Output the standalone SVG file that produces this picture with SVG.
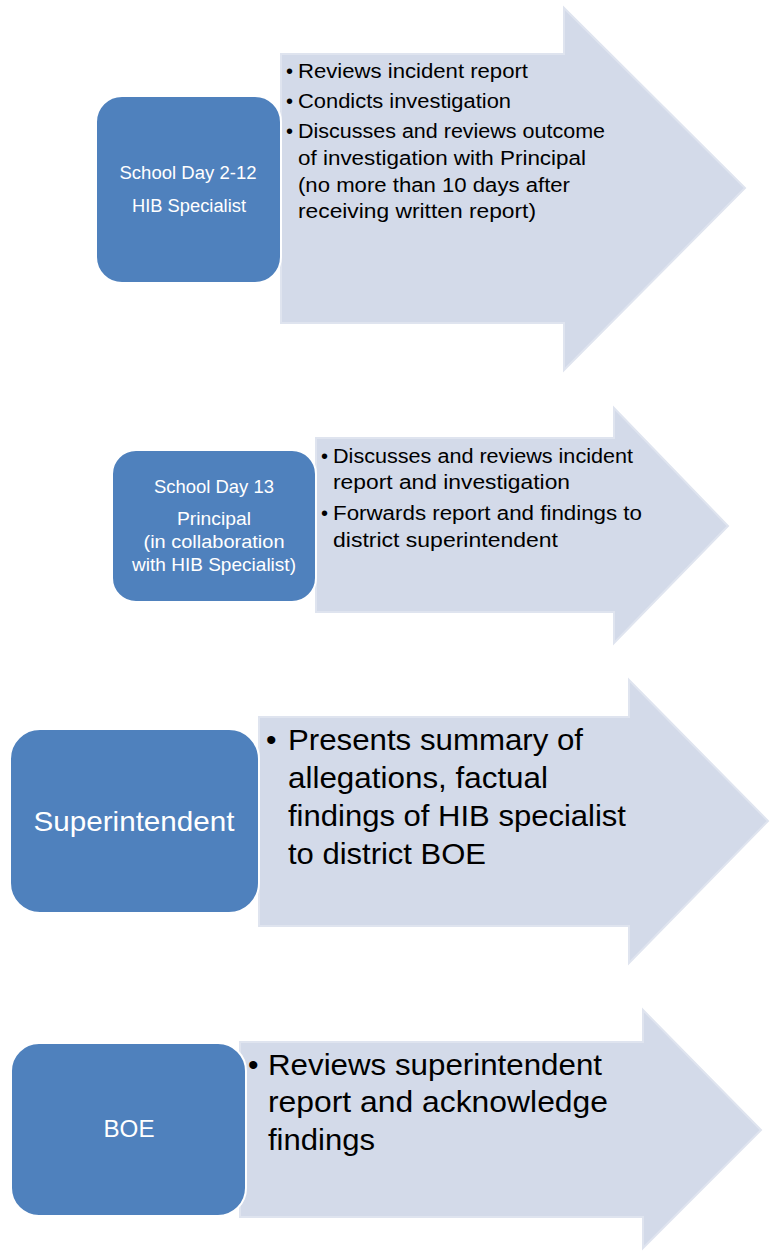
<svg xmlns="http://www.w3.org/2000/svg" width="773" height="1252" viewBox="0 0 773 1252">
  <style>
    .arrow { fill: #d3dae9; stroke: #dfe4ef; stroke-width: 2; }
    .box { fill: #4f81bd; stroke: #ffffff; stroke-width: 2; }
    .lbl { font-family: "Liberation Sans", Arial, sans-serif; fill: #ffffff; text-anchor: middle; }
    .txt { font-family: "Liberation Sans", Arial, sans-serif; fill: #000000; }
    .s { font-size: 20px; }
    .l { font-size: 30px; }
  </style>
  <rect width="773" height="1252" fill="#ffffff"/>

  <!-- Step 1: HIB Specialist -->
  <g id="step1">
    <path class="arrow" d="M281,54 H564 V8 L745,188 L564,370 V323 H281 Z"/>
    <rect class="box" x="96" y="96" width="185" height="187" rx="26" ry="26"/>
    <text class="lbl" x="188" y="179" font-size="18" textLength="137" lengthAdjust="spacingAndGlyphs">School Day 2-12</text>
    <text class="lbl" x="189" y="212" font-size="18" textLength="114" lengthAdjust="spacingAndGlyphs">HIB Specialist</text>
    <g class="txt s">
      <text x="286" y="78">•</text>
      <text x="298" y="78" textLength="230" lengthAdjust="spacingAndGlyphs">Reviews incident report</text>
      <text x="286" y="108">•</text>
      <text x="298" y="108" textLength="213" lengthAdjust="spacingAndGlyphs">Condicts investigation</text>
      <text x="286" y="138">•</text>
      <text x="298" y="138" textLength="307" lengthAdjust="spacingAndGlyphs">Discusses and reviews outcome</text>
      <text x="298" y="165" textLength="288" lengthAdjust="spacingAndGlyphs">of investigation with Principal</text>
      <text x="298" y="192" textLength="272" lengthAdjust="spacingAndGlyphs">(no more than 10 days after</text>
      <text x="298" y="218" textLength="238" lengthAdjust="spacingAndGlyphs">receiving written report)</text>
    </g>
  </g>

  <!-- Step 2: Principal -->
  <g id="step2">
    <path class="arrow" d="M316,438 H614 V408 L728,526 L614,643 V612 H316 Z"/>
    <rect class="box" x="112" y="450" width="204" height="152" rx="24" ry="24"/>
    <text class="lbl" x="214" y="493" font-size="18.5" textLength="120" lengthAdjust="spacingAndGlyphs">School Day 13</text>
    <text class="lbl" x="214" y="525" font-size="18.5" textLength="74" lengthAdjust="spacingAndGlyphs">Principal</text>
    <text class="lbl" x="214" y="548" font-size="18.5" textLength="141" lengthAdjust="spacingAndGlyphs">(in collaboration</text>
    <text class="lbl" x="214" y="571" font-size="18.5" textLength="164" lengthAdjust="spacingAndGlyphs">with HIB Specialist)</text>
    <g class="txt s">
      <text x="321" y="463">•</text>
      <text x="333" y="463" textLength="300" lengthAdjust="spacingAndGlyphs">Discusses and reviews incident</text>
      <text x="333" y="489" textLength="237" lengthAdjust="spacingAndGlyphs">report and investigation</text>
      <text x="321" y="520">•</text>
      <text x="333" y="520" textLength="309" lengthAdjust="spacingAndGlyphs">Forwards report and findings to</text>
      <text x="333" y="547" textLength="225" lengthAdjust="spacingAndGlyphs">district superintendent</text>
    </g>
  </g>

  <!-- Step 3: Superintendent -->
  <g id="step3">
    <path class="arrow" d="M259,717 H629 V680 L768,821 L629,963 V926 H259 Z"/>
    <rect class="box" x="10" y="729" width="249" height="184" rx="30" ry="30"/>
    <text class="lbl" x="134" y="831" font-size="28" textLength="201" lengthAdjust="spacingAndGlyphs">Superintendent</text>
    <g class="txt l">
      <text x="266" y="750">•</text>
      <text x="288" y="750" textLength="295" lengthAdjust="spacingAndGlyphs">Presents summary of</text>
      <text x="288" y="788" textLength="260" lengthAdjust="spacingAndGlyphs">allegations, factual</text>
      <text x="288" y="826" textLength="338" lengthAdjust="spacingAndGlyphs">findings of HIB specialist</text>
      <text x="288" y="864" textLength="198" lengthAdjust="spacingAndGlyphs">to district BOE</text>
    </g>
  </g>

  <!-- Step 4: BOE -->
  <g id="step4">
    <path class="arrow" d="M240,1042 H643 V1010 L761,1130 L643,1248 V1217 H240 Z"/>
    <rect class="box" x="11" y="1043" width="235" height="173" rx="28" ry="28"/>
    <text class="lbl" x="129" y="1137" font-size="24" textLength="51" lengthAdjust="spacingAndGlyphs">BOE</text>
    <g class="txt l">
      <text x="248" y="1075">•</text>
      <text x="268" y="1075" textLength="334" lengthAdjust="spacingAndGlyphs">Reviews superintendent</text>
      <text x="268" y="1112" textLength="340" lengthAdjust="spacingAndGlyphs">report and acknowledge</text>
      <text x="268" y="1150" textLength="107" lengthAdjust="spacingAndGlyphs">findings</text>
    </g>
  </g>

  <!-- No connectors: each step is a self-contained arrow -->
  <g id="connectors"/>
</svg>
